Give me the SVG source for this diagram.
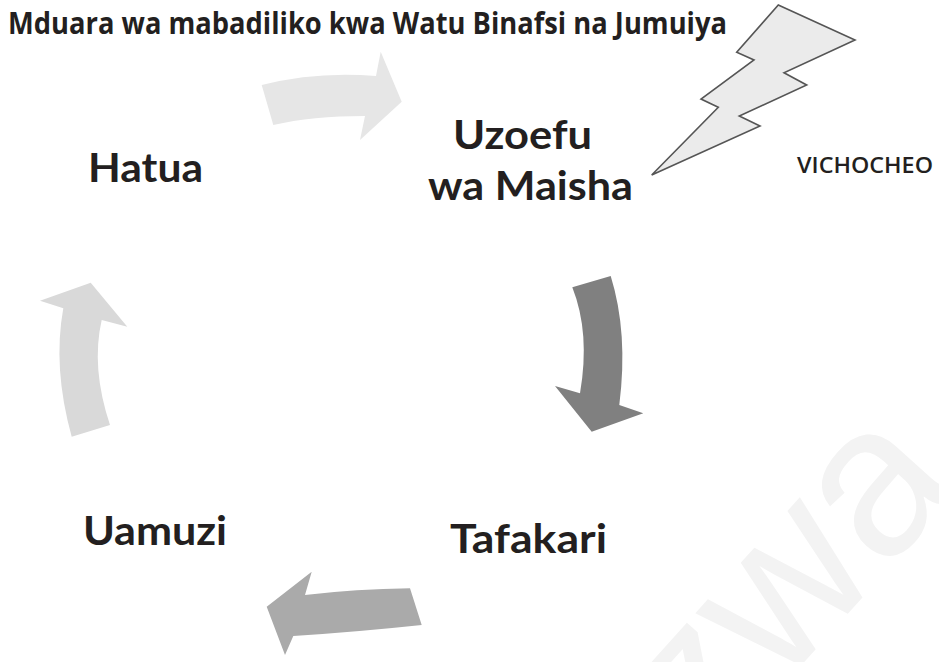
<svg xmlns="http://www.w3.org/2000/svg" width="939" height="662" viewBox="0 0 939 662">
<style>
.t{font-family:"Open Sans","Noto Sans","DejaVu Sans",sans-serif;font-weight:700;fill:#231f20}
.big{font-family:Lato,"Open Sans",sans-serif;font-size:41px;font-weight:700}
.title{font-size:30px}
.lbl{font-size:22px;font-weight:600}
</style>
<rect width="939" height="662" fill="#ffffff"/>
<text id="watermark" transform="translate(708,769) rotate(-48)" font-family="Liberation Sans, sans-serif" font-size="215" fill="#f3f3f3">zwa</text>
<text id="title" class="t title" x="8" y="34" textLength="719" lengthAdjust="spacingAndGlyphs">Mduara wa mabadiliko kwa Watu Binafsi na Jumuiya</text>
<g id="connectors">
<path id="arrow-top" d="M261.7,85 Q316.7,71 376,76 L380.7,51.7 L401.7,101.7 L360,140 L365,116 Q312,116 273.3,125 Z" fill="#e6e6e6"/>
<path id="arrow-right" d="M572.3,287.3 L610.7,276 Q628.4,332.9 619.3,405 L643.3,413.3 L591.7,431.7 L555,386 L580,393.3 Q590.4,333.1 572.3,287.3 Z" fill="#808080"/>
<path id="arrow-bottom" d="M410,588.3 Q356,589 305,595 L311.7,571.7 L266.7,606.7 L285,655 L293.3,636 Q356,632 421.7,625 Z" fill="#aaaaaa"/>
<path id="arrow-left" d="M71.7,436.7 Q52.5,367.5 63.3,308.3 L40,300.7 L90.7,282.7 L127.3,326.7 L101.7,320 Q90.8,367.5 110,425 Z" fill="#d9d9d9"/>
</g>
<g id="vichocheo">
<polygon points="778.3,5 855,40 784,72.7 806.7,85 739.3,116 760,126 651.7,175 718.3,107.3 701,99 754,60 736.7,52.3" fill="#ebebeb" stroke="#555555" stroke-width="1.6" stroke-linejoin="miter"/>
<text class="t lbl" x="797" y="173" textLength="136" lengthAdjust="spacingAndGlyphs">VICHOCHEO</text>
</g>
<g id="uzoefu">
<text class="t big"><tspan x="453" y="149" textLength="139" lengthAdjust="spacingAndGlyphs">Uzoefu</tspan><tspan x="428" y="200" textLength="205" lengthAdjust="spacingAndGlyphs">wa Maisha</tspan></text>
</g>
<g id="tafakari"><text class="t big" x="450" y="553" textLength="157" lengthAdjust="spacingAndGlyphs">Tafakari</text></g>
<g id="uamuzi"><text class="t big" x="83" y="545" textLength="144" lengthAdjust="spacingAndGlyphs">Uamuzi</text></g>
<g id="hatua"><text class="t big" x="88" y="182" textLength="115" lengthAdjust="spacingAndGlyphs">Hatua</text></g>
</svg>
